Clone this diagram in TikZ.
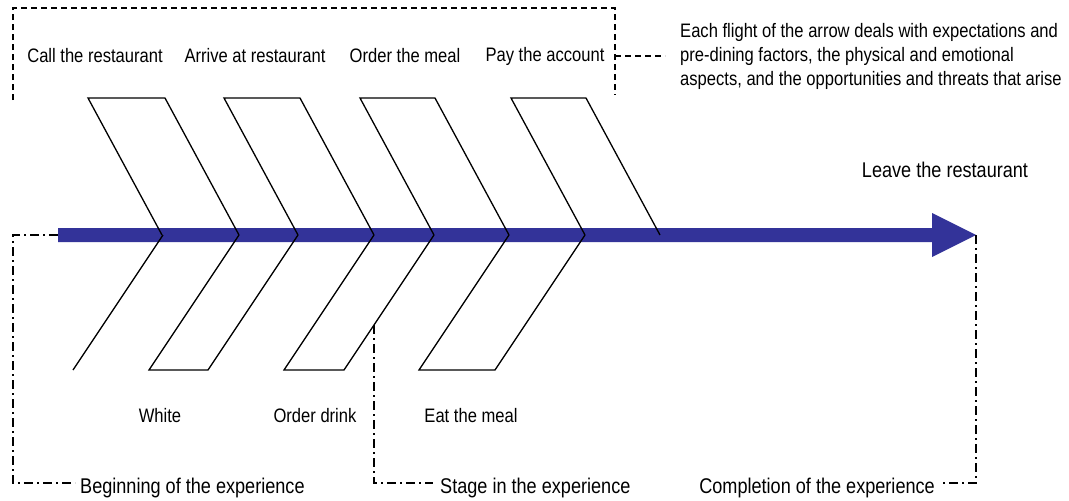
\documentclass[tikz,border=0pt]{standalone}
\usepackage{fontspec}
\setmainfont{Liberation Sans}[FakeStretch=0.85]
\definecolor{spineblue}{RGB}{51,51,153}
\begin{document}
\begin{tikzpicture}[x=1pt,y=-1pt,
  flight/.style={draw=black,line width=1.3pt,line join=miter},
  bracket/.style={draw=black,line width=1.3pt,dash pattern=on 6pt off 4pt},
  phase/.style={draw=black,line width=1.3pt,dash pattern=on 9pt off 4pt on 2pt off 4pt},
  lbl/.style={font=\fontsize{19.5}{24}\selectfont,inner sep=0pt},
  biglbl/.style={font=\fontsize{21.3}{26}\selectfont,inner sep=0pt}]
\useasboundingbox (0,0) rectangle (1069,501);

% the spine of the arrow
\coordinate (tail) at (58,235);
\coordinate (tip) at (976,235);
\fill[spineblue] (tail) ++(0,-7) -- (932,228) -- (932,213) -- (tip) -- (932,257)
  -- (932,242) -- (58,242) -- cycle;

% upper flights
\foreach \a/\b in {162/239,298/374,434/509,585/660}
  \draw[flight] (\a,235) -- ({\a-74},98) -- ({\b-74},98) -- (\b,235);

% lower flights
\draw[flight] (163,235) -- (73,370);
\foreach \a/\b in {239/298,374/434,509/585}
  \draw[flight] (\a,235) -- ({\a-90},370) -- ({\b-90},370) -- (\b,235);

% labels of the upper flights
\node[lbl] (call)   at (95,56)  {Call the restaurant};
\node[lbl] (arrive) at (255,56) {Arrive at restaurant};
\node[lbl] (order)  at (405,56) {Order the meal};
\node[lbl] (pay)    at (545,56) {Pay the account};
\node[lbl,anchor=west,align=left] (note) at (680,56)
  {Each flight of the arrow deals with expectations and\\
   pre-dining factors, the physical and emotional\\
   aspects, and the opportunities and threats that arise};

% labels of the lower flights
\node[lbl] (white) at (160,416) {White};
\node[lbl] (drink) at (315,416) {Order drink};
\node[lbl] (eat)   at (471,416) {Eat the meal};
\node[biglbl] (leave) at (945,170) {Leave the restaurant};

% phases along the bottom
\node[biglbl,anchor=base west] (begin) at (80,493) {Beginning of the experience};
\node[biglbl,anchor=base west] (stage) at (440,493) {Stage in the experience};
\node[biglbl,anchor=base east] (complete) at (935,493) {Completion of the experience};

% bracket over the upper flights
\coordinate (notejoin) at (615,56);
\draw[bracket] (13,100) -- (13,8) -- (615,8) -- (615,95);
\draw[bracket] (notejoin) -- ([xshift=-15pt]note.west);

% phase brackets
\coordinate (stagestart) at (374,325);
\draw[phase] (tail) -- (13,235) -- (13,483) -- (75,483);
\draw[phase] (stagestart) -- (374,483) -- (433,483);
\draw[phase] (tip) -- (976,483) -- (940,483);
\end{tikzpicture}
\end{document}
